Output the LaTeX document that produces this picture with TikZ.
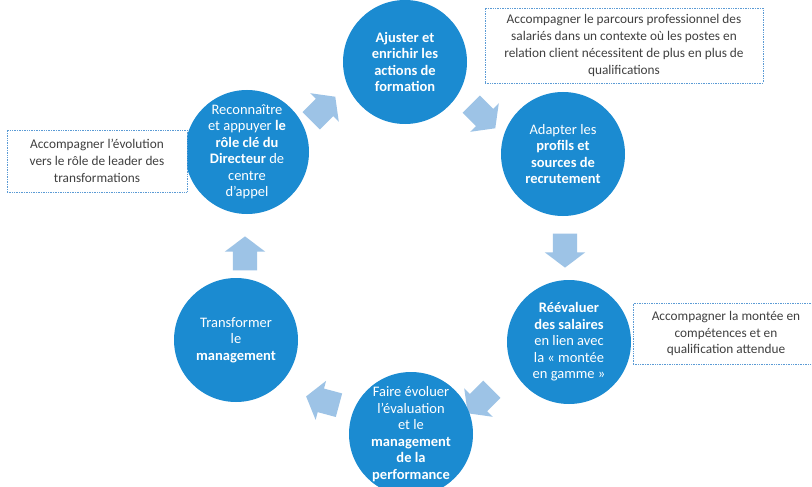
\documentclass[tikz,border=0pt]{standalone}
\usepackage{fontspec}
\setmainfont{Carlito}
\usetikzlibrary{shapes.arrows}
\definecolor{cblue}{RGB}{27,139,209}
\definecolor{ablue}{RGB}{157,195,230}
\definecolor{bblue}{RGB}{91,155,213}
\definecolor{tgray}{RGB}{64,64,64}
\begin{document}
\begin{tikzpicture}[x=1pt,y=-1pt,
 circ/.style={circle, fill=cblue, minimum size=124pt, inner sep=0pt, text=white, align=center, font=\fontsize{14.5}{16.5}\selectfont},
 callout/.style={draw=bblue, densely dotted, line width=0.7pt, fill=white, text=tgray, align=center, font=\fontsize{13.3}{16.8}\selectfont, inner sep=0pt},
 blk/.style={single arrow, fill=ablue, minimum height=34pt, inner xsep=0pt, inner ysep=12pt, single arrow head extend=8pt, single arrow tip angle=106}]
\useasboundingbox[fill=white] (0,0) rectangle (812,487);

% block arrows
\node[blk, rotate=45] (a1) at (320,112) {};
\node[blk, rotate=-45] (a2) at (480,113) {};
\node[blk, rotate=-90] (a3) at (565,246) {};
\node[blk, rotate=-135] (a4) at (483,398) {};
\node[blk, rotate=165] (a5) at (327,402) {};
\node[blk, rotate=90] (a6) at (245,258) {};

% circles
\node[circ] (c1) at (405,62) {\textbf{Ajuster et}\\\textbf{enrichir les}\\\textbf{actions de}\\\textbf{formation}};
\node[circ] (c2) at (563,154) {Adapter les\\\textbf{profils et}\\\textbf{sources de}\\\textbf{recrutement}};
\node[circ] (c3) at (569,342) {\textbf{Réévaluer}\\\textbf{des salaires}\\en lien avec\\la « montée\\en gamme »};
\node[circ] (c4) at (411,434) {Faire évoluer\\l’évaluation\\et le\\\textbf{management}\\\textbf{de la}\\\textbf{performance}};
\node[circ] (c5) at (236,340) {Transformer\\le\\\textbf{management}};
\node[circ] (c6) at (247,152) {Reconnaître\\et appuyer \textbf{le}\\\textbf{rôle clé du}\\\textbf{Directeur} de\\centre\\d’appel};

% callouts
\node[callout, minimum width=278pt, minimum height=75pt] (b1) at (624,45.5) {Accompagner le parcours professionnel des\\salariés dans un contexte où les postes en\\relation client nécessitent de plus en plus de\\qualifications};
\node[callout, minimum width=180pt, minimum height=62pt] (b2) at (97,161) {Accompagner l’évolution\\vers le rôle de leader des\\transformations};
\node[callout, minimum width=186pt, minimum height=61pt] (b3) at (726,333.5) {Accompagner la montée en\\compétences et en\\qualification attendue};
\end{tikzpicture}
\end{document}
